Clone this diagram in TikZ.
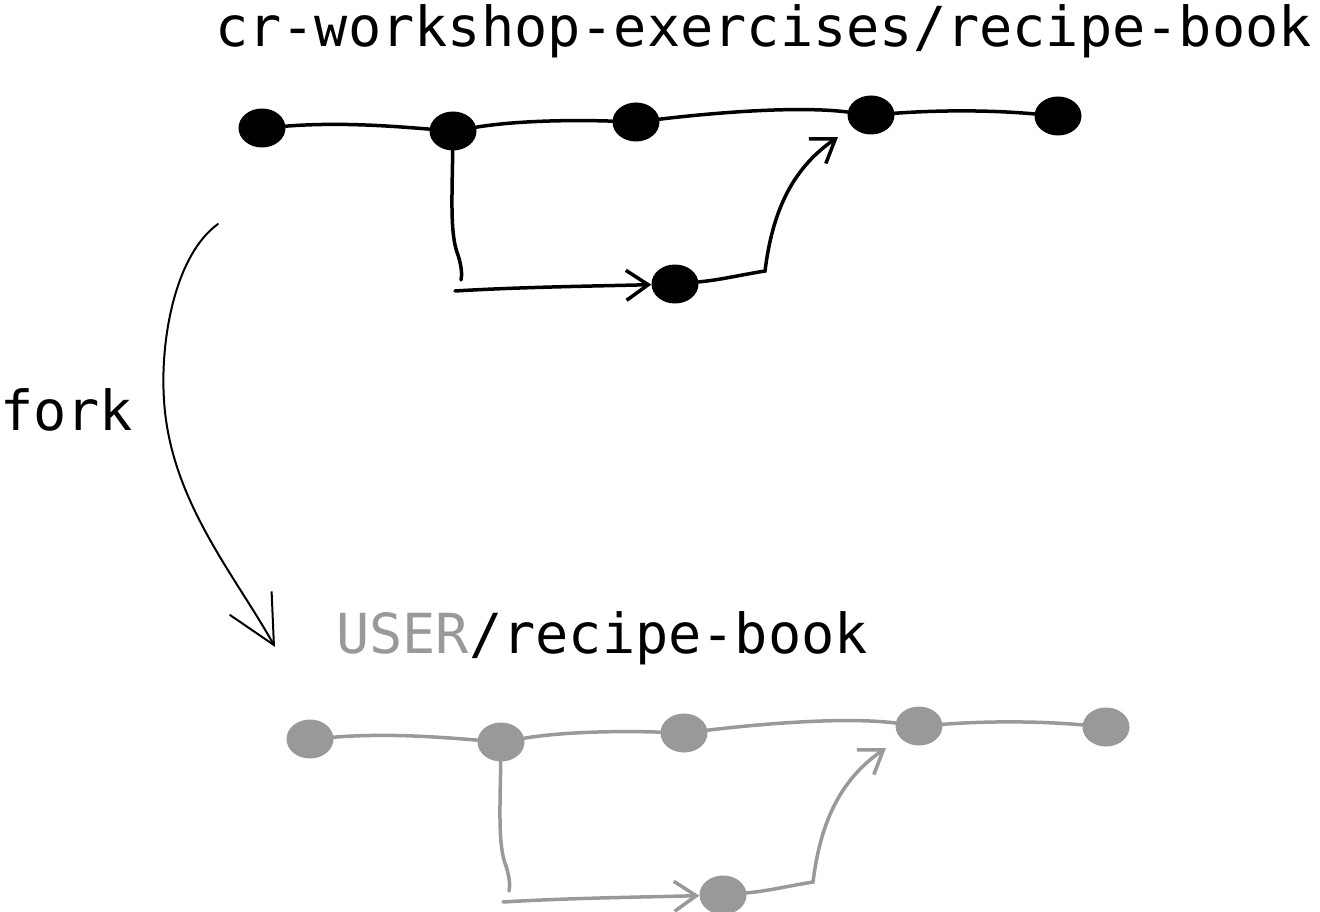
\documentclass[tikz,border=0pt]{standalone}
\usepackage{fontspec}
\newfontfamily\repomono{DejaVu Sans Mono}
\usetikzlibrary{shapes.geometric,arrows.meta}
\definecolor{inkgray}{HTML}{999999}
\tikzset{
  commit/.style={ellipse,fill=#1,draw=none,minimum width=47pt,minimum height=39pt,inner sep=0pt},
  hist/.style={line width=3.5pt,line cap=round},
  barb/.style={-{Straight Barb[length=22pt,width=30pt]}},
  forkline/.style={line width=2pt,line cap=round,-{Straight Barb[length=48pt,width=48pt]}},
  title/.style={font=\repomono\fontsize{55.2}{60}\selectfont,anchor=base west,inner sep=0pt},
}
\newcommand\history[3]{%
\begin{scope}[shift={#3}]
  \node[commit=#2] (#1n1) at (262,128) {};
  \node[commit=#2] (#1n2) at (453,131) {};
  \node[commit=#2] (#1n3) at (636,122) {};
  \node[commit=#2] (#1n4) at (871,115) {};
  \node[commit=#2] (#1n5) at (1058,116) {};
  \node[commit=#2] (#1n6) at (675,284) {};
  \coordinate (#1c1) at (461,280);
  \coordinate (#1c2) at (455,291);
  \coordinate (#1c3) at (765,271);
  \coordinate (#1t4) at (838,137);
  \draw[hist,draw=#2] (#1n1) .. controls (340,122) and (390,126) .. (#1n2);
  \draw[hist,draw=#2] (#1n2) .. controls (520,120) and (580,120) .. (#1n3);
  \draw[hist,draw=#2] (#1n3) .. controls (720,112) and (800,106) .. (#1n4);
  \draw[hist,draw=#2] (#1n4) .. controls (940,110) and (990,110) .. (#1n5);
  \draw[hist,draw=#2] (#1n2) .. controls (452,200) and (450,235) .. (458,255) .. controls (462,268) and (462,275) .. (#1c1);
  \draw[hist,barb,draw=#2] (#1c2) .. controls (520,287) and (600,286) .. (#1n6);
  \draw[hist,barb,draw=#2] (#1n6) .. controls (720,280) and (740,275) .. (#1c3) .. controls (772,215) and (790,170) .. (#1t4);
\end{scope}}
\begin{document}
\begin{tikzpicture}[x=1pt,y=-1pt]
  \useasboundingbox[fill=white] (0,0) rectangle (1320,912);
  \node[title] (toptitle) at (215,47) {cr-workshop-exercises/recipe-book};
  \node[title] (bottomtitle) at (336,653) {\textcolor{inkgray}{USER}/recipe-book};
  \node[title] (forklabel) at (0,430) {fork};
  \history{a}{black}{(0,0)}
  \history{b}{inkgray}{(48,611)}
  \coordinate (fs) at (218,224);
  \coordinate (fe) at (275,647);
  \draw[forkline] (fs) .. controls (175,255) and (160,340) .. (164,400) .. controls (170,500) and (235,575) .. (fe);
\end{tikzpicture}
\end{document}
